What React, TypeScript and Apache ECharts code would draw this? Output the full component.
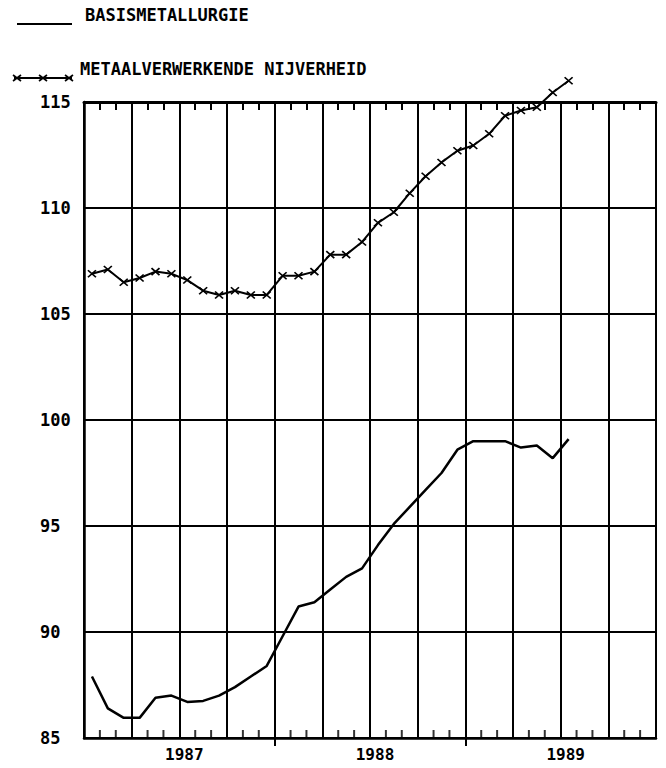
import React, { useEffect, useRef } from 'react';
import * as echarts from 'echarts';

const years = ['1987', '1988', '1989'];
const monthsPerYear = 12;
const basisLabel = 'BASISMETALLURGIE';
const metaalLabel = 'METAALVERWERKENDE NIJVERHEID';

// Monthly index values, Jan 1987 - Jul 1989
const basisValues = [
  87.9, 86.4, 85.95, 85.95, 86.9, 87.0, 86.7, 86.75, 87.0, 87.4, 87.9, 88.4,
  89.8, 91.2, 91.4, 92.0, 92.6, 93.0, 94.1, 95.1, 95.9, 96.7, 97.5, 98.6,
  99.0, 99.0, 99.0, 98.7, 98.8, 98.2, 99.1,
];
const metaalValues = [
  106.9, 107.1, 106.5, 106.7, 107.0, 106.9, 106.6, 106.1, 105.9, 106.1, 105.9, 105.9,
  106.8, 106.8, 107.0, 107.8, 107.8, 108.4, 109.3, 109.8, 110.7, 111.5, 112.15, 112.7,
  112.95, 113.5, 114.35, 114.6, 114.75, 115.45, 116.0,
];
const yTicks = [85, 90, 95, 100, 105, 110, 115];

const FONT = '"DejaVu Sans Mono", "Liberation Mono", monospace';
const BLACK = '#000';

const toPoints = (vals: number[]) => vals.map((v, i) => [i + 0.5, v]);

const crossPath = 'path://M0,0L10,10M10,0L0,10';

export default function App() {
  const ref = useRef<HTMLDivElement>(null);
  useEffect(() => {
    document.body.style.margin = '0';
    const chart = echarts.init(ref.current!, null, { renderer: 'svg' });
    const totalMonths = years.length * monthsPerYear;
    const monthTicks = Array.from({ length: totalMonths }, (_, i) => i).filter((i) => i % 3 !== 0);
    const yMin = yTicks[0];
    const baseX = {
      type: 'value',
      min: 0,
      max: totalMonths,
      interval: 3,
      gridIndex: 0,
    };
    const legendMarkX = [17, 43, 69];
    const graphics: any[] = [
      { type: 'line', shape: { x1: 17, y1: 24, x2: 72, y2: 24 }, style: { stroke: BLACK, lineWidth: 2 } },
      { type: 'line', shape: { x1: 14, y1: 78, x2: 72, y2: 78 }, style: { stroke: BLACK, lineWidth: 2 } },
      {
        type: 'text', x: 85, y: 15,
        style: { text: basisLabel, fill: BLACK, fontFamily: FONT, fontWeight: 'bold', fontSize: 17, verticalAlign: 'middle' },
      },
      {
        type: 'text', x: 80, y: 69,
        style: { text: metaalLabel, fill: BLACK, fontFamily: FONT, fontWeight: 'bold', fontSize: 17, verticalAlign: 'middle' },
      },
    ];
    legendMarkX.forEach((cx) => {
      graphics.push({ type: 'line', shape: { x1: cx - 4, y1: 75, x2: cx + 4, y2: 81 }, style: { stroke: BLACK, lineWidth: 1.6 } });
      graphics.push({ type: 'line', shape: { x1: cx - 4, y1: 81, x2: cx + 4, y2: 75 }, style: { stroke: BLACK, lineWidth: 1.6 } });
    });

    const option: any = {
      animation: false,
      backgroundColor: '#fff',
      grid: { left: 84, right: 10, top: 102, bottom: 30, containLabel: false, outerBoundsMode: 'none' },
      xAxis: [
        {
          ...baseX,
          position: 'bottom',
          axisLine: { show: true, lineStyle: { color: BLACK, width: 2.5 } },
          axisTick: { show: false },
          axisLabel: { show: false },
          splitLine: { show: true, lineStyle: { color: BLACK, width: 2 } },
        },
        {
          ...baseX,
          position: 'top',
          axisLine: { show: true, lineStyle: { color: BLACK, width: 3 } },
          axisTick: { show: true, inside: true, length: 8, customValues: monthTicks, lineStyle: { color: BLACK, width: 2 } },
          axisLabel: { show: false },
          splitLine: { show: false },
        },
        {
          ...baseX,
          position: 'bottom',
          axisLine: { show: false },
          axisTick: {
            show: true, inside: false, length: 8,
            customValues: years.slice(1).map((_, i) => (i + 1) * monthsPerYear),
            lineStyle: { color: BLACK, width: 2 },
          },
          axisLabel: {
            show: true,
            customValues: years.map((_, i) => i * monthsPerYear + monthsPerYear / 2),
            formatter: (v: number) => years[Math.floor(v / monthsPerYear)],
            color: BLACK, fontFamily: FONT, fontWeight: 'bold', fontSize: 16, margin: 8,
            padding: [0, 0, 0, 10],
          },
          splitLine: { show: false },
        },
      ],
      yAxis: {
        type: 'value',
        min: yTicks[0],
        max: yTicks[yTicks.length - 1],
        interval: 5,
        axisLine: { show: true, lineStyle: { color: BLACK, width: 2.5 } },
        axisTick: { show: false },
        axisLabel: {
          color: BLACK, fontFamily: FONT, fontWeight: 'bold', fontSize: 17,
          align: 'left', margin: 44,
        },
        splitLine: { show: true, lineStyle: { color: BLACK, width: 2 } },
      },
      graphic: graphics,
      series: [
        {
          // monthly tick marks along the bottom edge, pointing up into the plot
          name: 'monthTicks',
          type: 'scatter',
          xAxisIndex: 0,
          data: monthTicks.map((m) => [m, yMin]),
          symbol: 'rect',
          symbolSize: [2, 8],
          symbolOffset: [0, -4],
          itemStyle: { color: BLACK },
          silent: true,
          clip: false,
          z: 3,
        },
        {
          name: basisLabel,
          type: 'line',
          xAxisIndex: 0,
          data: toPoints(basisValues),
          showSymbol: false,
          symbol: 'none',
          lineStyle: { color: BLACK, width: 2.5 },
          clip: false,
        },
        {
          name: metaalLabel,
          type: 'line',
          xAxisIndex: 0,
          data: toPoints(metaalValues),
          symbol: crossPath,
          symbolSize: [8, 7],
          showSymbol: true,
          itemStyle: { color: BLACK, borderColor: BLACK, borderWidth: 1.6 },
          lineStyle: { color: BLACK, width: 2 },
          clip: false,
        },
      ],
    };
    chart.setOption(option);
    return () => chart.dispose();
  }, []);
  return <div ref={ref} style={{ width: 666, height: 768 }} />;
}
